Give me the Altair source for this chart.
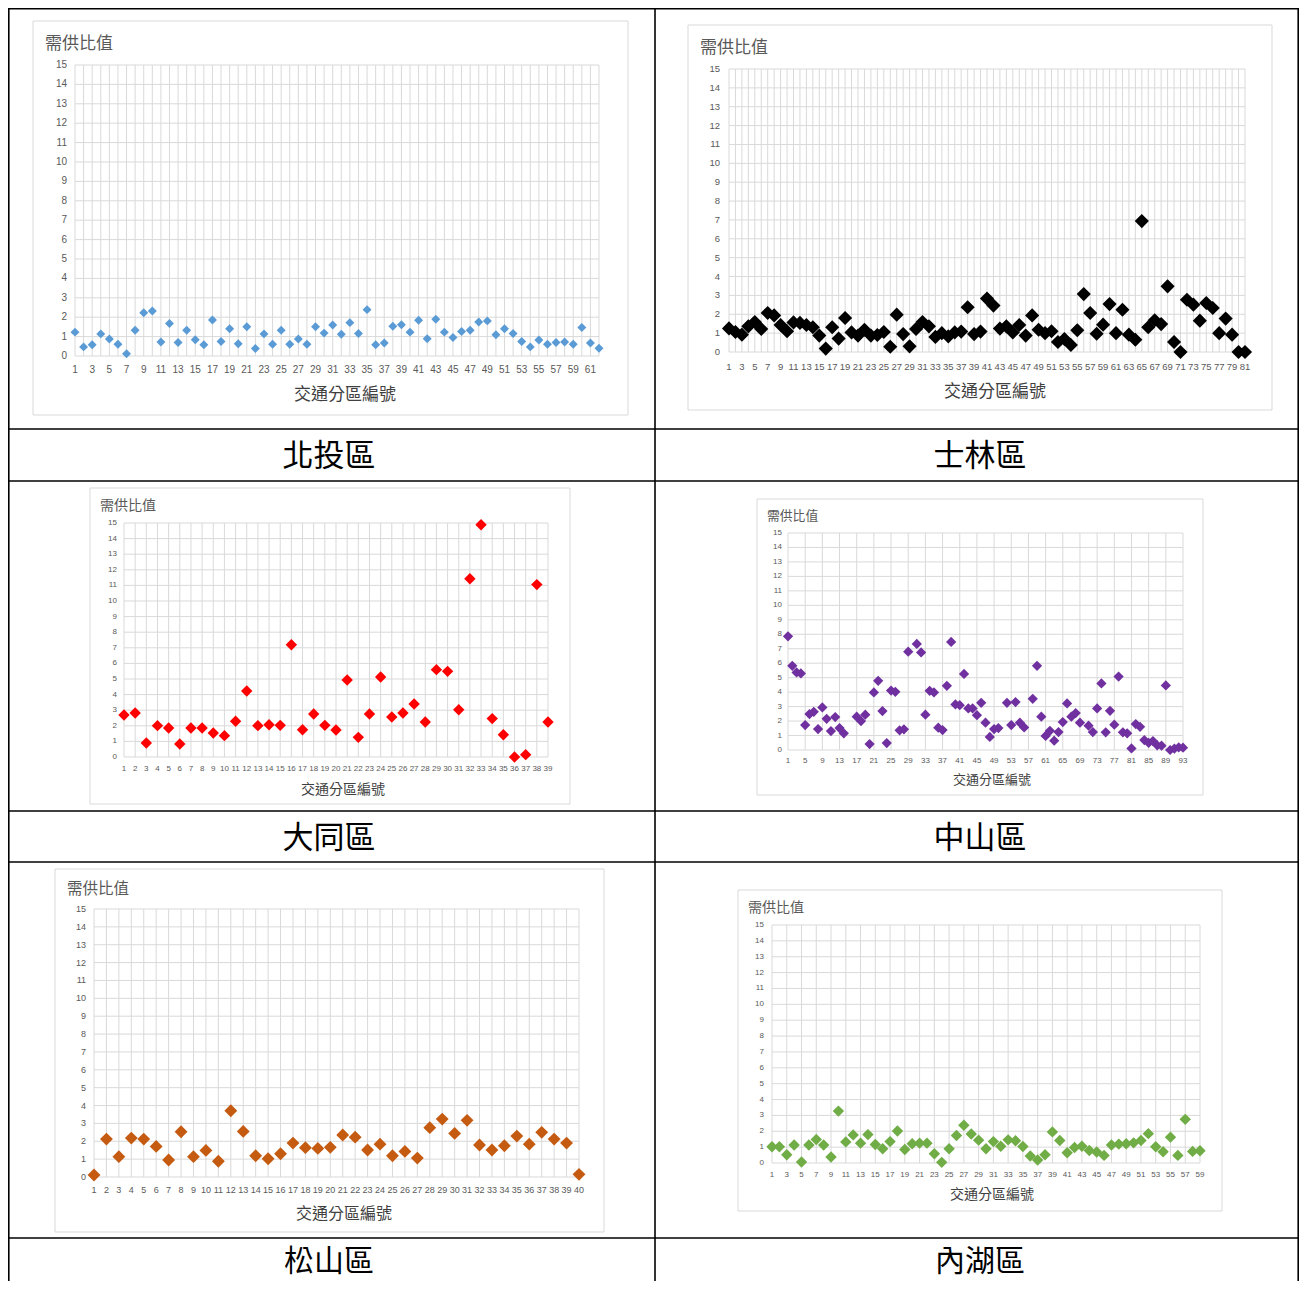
import altair as alt
import pandas as pd

# ---------------- data ----------------
districts = ["北投區", "士林區", "大同區", "中山區", "松山區", "內湖區"]
y_title = "需供比值"
x_title = "交通分區編號"

beitou = [1.23, 0.47, 0.58, 1.14, 0.88, 0.61, 0.12, 1.33, 2.23, 2.32,
          0.72, 1.68, 0.70, 1.33, 0.84, 0.58, 1.86, 0.75, 1.40, 0.63,
          1.51, 0.39, 1.14, 0.61, 1.33, 0.61, 0.88, 0.61, 1.51, 1.18,
          1.60, 1.12, 1.72, 1.16, 2.39, 0.58, 0.67, 1.53, 1.61, 1.23,
          1.84, 0.89, 1.89, 1.23, 0.95, 1.26, 1.33, 1.75, 1.81, 1.10,
          1.40, 1.16, 0.75, 0.47, 0.82, 0.61, 0.70, 0.72, 0.61, 1.47,
          0.67, 0.40]

shilin = [1.25, 1.06, 0.92, 1.36, 1.59, 1.22, 2.07, 1.94, 1.43, 1.10,
          1.57, 1.54, 1.43, 1.31, 0.87, 0.18, 1.31, 0.71, 1.80, 1.04,
          0.87, 1.18, 0.87, 0.90, 1.06, 0.28, 1.98, 0.95, 0.30, 1.22,
          1.59, 1.36, 0.80, 1.00, 0.83, 1.04, 1.08, 2.37, 0.95, 1.08,
          2.83, 2.46, 1.24, 1.36, 1.04, 1.43, 0.87, 1.94, 1.18, 1.00,
          1.10, 0.53, 0.69, 0.37, 1.15, 3.07, 2.07, 0.97, 1.45, 2.54,
          1.00, 2.24, 0.92, 0.65, 6.94, 1.31, 1.68, 1.48, 3.48, 0.53,
          0.00, 2.77, 2.51, 1.66, 2.60, 2.33, 1.00, 1.77, 0.92, 0.00,
          0.00]

datong = [2.69, 2.82, 0.90, 2.01, 1.86, 0.83, 1.86, 1.86, 1.54, 1.37,
          2.29, 4.23, 2.01, 2.07, 2.03, 7.20, 1.75, 2.76, 2.03, 1.73,
          4.94, 1.26, 2.76, 5.13, 2.56, 2.82, 3.40, 2.24, 5.60, 5.49,
          3.03, 11.43, 14.89, 2.46, 1.43, 0.00, 0.15, 11.05, 2.24]

zhongshan = [7.86, 5.82, 5.36, 5.29, 1.72, 2.48, 2.64, 1.45, 2.94, 2.16,
             1.31, 2.28, 1.52, 1.15, None, None, 2.30, 2.00, 2.44, 0.41,
             3.98, 4.78, 2.69, 0.48, 4.11, 4.02, 1.36, 1.43, 6.80, None,
             7.33, 6.74, 2.44, 4.09, 3.98, 1.54, 1.38, 4.44, 7.47, 3.15,
             3.10, 5.26, 2.87, 2.87, 2.41, 3.26, 1.89, 0.90, 1.45, 1.52,
             None, 3.26, 1.72, 3.31, 1.89, 1.56, None, 3.54, 5.82, 2.30,
             0.97, 1.33, 0.64, 1.24, 1.93, 3.22, 2.30, 2.55, 1.89, None,
             1.68, 1.24, 2.87, 4.60, 1.22, 2.71, 1.75, 5.08, 1.22, 1.15,
             0.11, 1.79, 1.60, 0.69, 0.50, 0.62, 0.32, 0.30, 4.46, 0.00,
             0.10, 0.18, 0.16]

songshan = [0.11, 2.12, 1.14, 2.18, 2.12, 1.71, 0.95, 2.53, 1.14, 1.49,
            0.88, 3.71, 2.55, 1.19, 1.02, 1.30, 1.90, 1.64, 1.60, 1.66,
            2.35, 2.23, 1.51, 1.84, 1.19, 1.43, 1.06, 2.76, 3.24, 2.44,
            3.17, 1.79, 1.51, 1.75, 2.29, 1.84, 2.50, 2.12, 1.90, 0.15]

neihu = [1.02, 1.02, 0.52, 1.13, 0.06, 1.13, 1.48, 1.13, 0.38, 3.27,
         1.33, 1.77, 1.25, 1.79, 1.17, 0.90, 1.35, 2.02, 0.85, 1.21,
         1.25, 1.25, 0.58, 0.04, 0.90, 1.73, 2.38, 1.83, 1.44, 0.90,
         1.35, 1.06, 1.46, 1.40, 1.04, 0.44, 0.19, 0.52, 1.96, 1.42,
         0.65, 0.98, 1.06, 0.79, 0.69, 0.48, 1.13, 1.19, 1.21, 1.27,
         1.42, 1.85, 1.02, 0.71, 1.63, 0.48, 2.75, 0.73, 0.77]

series = [beitou, shilin, datong, zhongshan, songshan, neihu]

# ---------------- layout / style ----------------
W, H = 1291, 1273
CJK = "Noto Sans CJK TC"
NUM = "Liberation Sans"
GRID = "#d9d9d9"
LAB = "#595959"

layout = [
    dict(color="#5b9bd5", size=80, x0=67, x1=591, yb=348, yt=57, lab_step=2, grid_step=1,
         frame=(25, 13, 620, 407), title=(37, 36, 17), xtitle=(337, 387, 17),
         lab_fs=10, xoff=14, ypad=8, caption=(321, 449, 31)),
    dict(color="#000000", size=200, x0=721, x1=1237, yb=344, yt=61, lab_step=2, grid_step=1,
         frame=(680, 17, 1264, 402), title=(692, 40, 17), xtitle=(987, 384, 17),
         lab_fs=9.5, xoff=15, ypad=9, caption=(972, 449, 31)),
    dict(color="#ff0000", size=130, x0=116, x1=540, yb=749, yt=515, lab_step=1, grid_step=1,
         frame=(82, 480, 562, 796), title=(92, 498, 14), xtitle=(335, 782, 14),
         lab_fs=8, xoff=12, ypad=7, caption=(321, 831, 31)),
    dict(color="#7030a0", size=105, x0=780, x1=1175, yb=742, yt=525, lab_step=4, grid_step=4,
         frame=(749, 491, 1195, 787), title=(759, 508, 12.8), xtitle=(984, 772, 13),
         lab_fs=8, xoff=11, ypad=6, caption=(972, 831, 31)),
    dict(color="#c55a11", size=165, x0=86, x1=571, yb=1169, yt=901, lab_step=1, grid_step=1,
         frame=(47, 861, 596, 1224), title=(59, 881, 15.5), xtitle=(336, 1206, 16),
         lab_fs=9, xoff=13, ypad=8, caption=(321, 1254, 30)),
    dict(color="#70ad47", size=130, x0=764, x1=1192, yb=1155, yt=917, lab_step=2, grid_step=2,
         frame=(730, 882, 1214, 1203), title=(740, 900, 14), xtitle=(984, 1187, 14),
         lab_fs=8, xoff=12, ypad=8, caption=(972, 1254, 30)),
]

one = pd.DataFrame({"k": [0]})


def hline(y, x0, x1, color="black", w=1.6):
    return alt.Chart(one).mark_rule(color=color, strokeWidth=w).encode(
        x=alt.value(x0), x2=alt.value(x1), y=alt.value(y))


def vline(x, y0, y1, color="black", w=1.6):
    return alt.Chart(one).mark_rule(color=color, strokeWidth=w).encode(
        y=alt.value(y0), y2=alt.value(y1), x=alt.value(x))


def label(txt, x, y, fs, color, align="left", font=CJK):
    return alt.Chart(one).mark_text(align=align, baseline="middle", font=font,
                                    fontSize=fs, color=color).encode(
        x=alt.value(x), y=alt.value(y), text=alt.value(txt))


def panel(vals, c):
    n = len(vals)
    df = pd.DataFrame({"idx": list(range(1, n + 1)), "val": vals})
    xs = alt.Scale(domain=[1, n], range=[c["x0"], c["x1"]], nice=False, zero=False)
    ys = alt.Scale(domain=[0, 15], range=[c["yb"], c["yt"]], nice=False, zero=False)
    gx = pd.DataFrame({"gx": list(range(1, n + 1, c["grid_step"]))})
    gy = pd.DataFrame({"gy": list(range(0, 16))})
    lx = pd.DataFrame({"lx": list(range(1, n + 1, c["lab_step"]))})

    vgrid = alt.Chart(gx).mark_rule(color=GRID, strokeWidth=1).encode(
        x=alt.X("gx:Q", scale=xs, axis=None),
        y=alt.value(c["yt"]), y2=alt.value(c["yb"]))
    hgrid = alt.Chart(gy).mark_rule(color=GRID, strokeWidth=1).encode(
        y=alt.Y("gy:Q", scale=ys, axis=None),
        x=alt.value(c["x0"]), x2=alt.value(c["x1"]))
    # tick labels, placed through the panel's own scales
    xticks = alt.Chart(lx).mark_text(align="center", baseline="middle", font=NUM,
                                     fontSize=c["lab_fs"], color=LAB).encode(
        x=alt.X("lx:Q", scale=xs, axis=None),
        y=alt.value(c["yb"] + c["xoff"]),
        text=alt.Text("lx:Q", format="d"))
    yticks = alt.Chart(gy).mark_text(align="right", baseline="middle", font=NUM,
                                     fontSize=c["lab_fs"], color=LAB).encode(
        y=alt.Y("gy:Q", scale=ys, axis=None),
        x=alt.value(c["x0"] - c["ypad"]),
        text=alt.Text("gy:Q", format="d"))
    pts = alt.Chart(df).mark_point(shape="diamond", filled=True, opacity=1,
                                   size=c["size"], color=c["color"], strokeWidth=0).encode(
        x=alt.X("idx:Q", scale=xs, axis=None),
        y=alt.Y("val:Q", scale=ys, axis=None))
    return alt.layer(vgrid, hgrid, xticks, yticks, pts)


layers = []
# table borders
for y in [0.8, 421, 473, 803, 854, 1230]:
    layers.append(hline(y, 0, W))
for x in [0.8, 647, W - 0.8]:
    layers.append(vline(x, 0, H))

# chart frames (outline only)
for c in layout:
    fx0, fy0, fx1, fy1 = c["frame"]
    layers.append(alt.Chart(one).mark_rect(fillOpacity=0, stroke=GRID, strokeWidth=1).encode(
        x=alt.value(fx0), x2=alt.value(fx1), y=alt.value(fy0), y2=alt.value(fy1)))

# scatter panels
for vals, c in zip(series, layout):
    layers.append(panel(vals, c))

# texts
for name, c in zip(districts, layout):
    tx, ty, tfs = c["title"]
    layers.append(label(y_title, tx, ty, tfs, "#595959"))
    xx, xy, xfs = c["xtitle"]
    layers.append(label(x_title, xx, xy, xfs, "#404040", align="center"))
    cx, cy, cfs = c["caption"]
    layers.append(label(name, cx, cy, cfs, "#000000", align="center"))

chart = alt.layer(*layers).resolve_scale(
    x="independent", y="independent"
).properties(
    width=W, height=H, padding=0,
    autosize=alt.AutoSizeParams(type="none"),
).configure_view(stroke=None)

chart.save("out.html", embed_options={"renderer": "svg", "actions": False})
